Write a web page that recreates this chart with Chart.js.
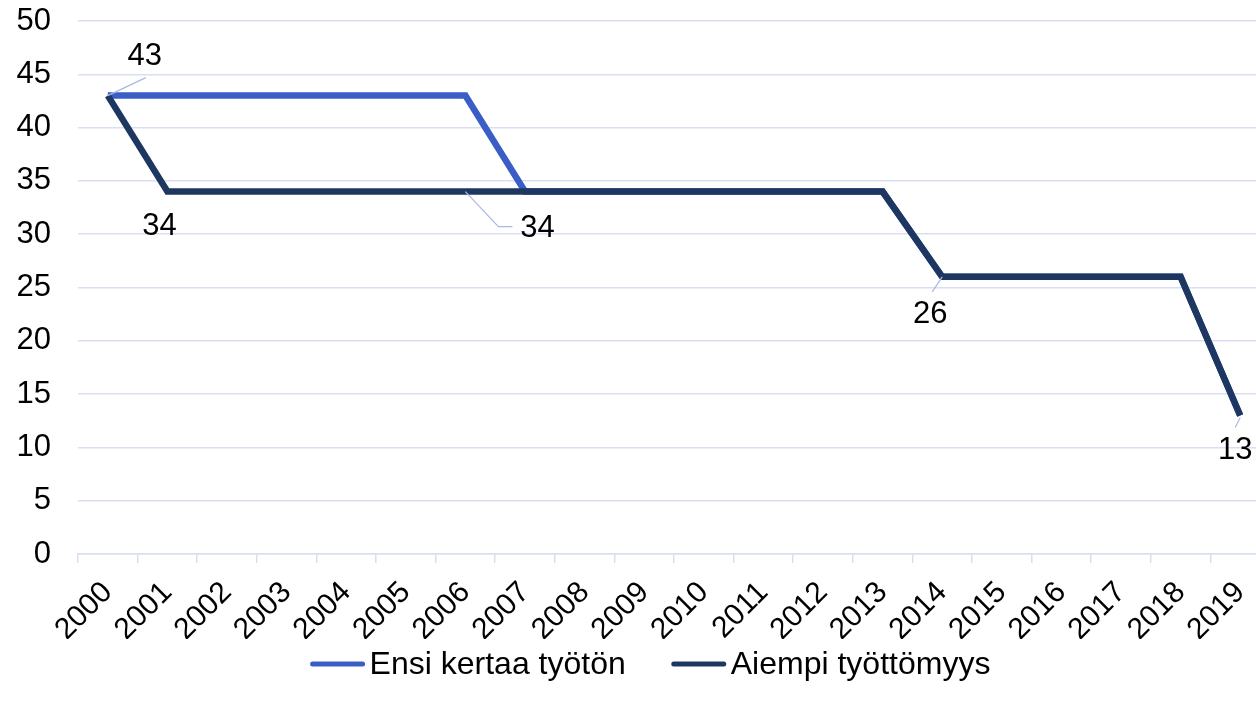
<!DOCTYPE html>
<html><head><meta charset="utf-8">
<script src="https://cdn.jsdelivr.net/npm/chart.js@4.4.1/dist/chart.umd.min.js"></script>
<style>
html,body{margin:0;padding:0;background:#fff;overflow:hidden;}
#wrap{position:relative;width:1256px;height:709px;overflow:hidden;background:#fff;}
#c{position:absolute;left:0;top:0;}
</style></head><body>
<div id="wrap"><canvas id="c" width="1290" height="709"></canvas></div>
<script>
// ---- data ----
const years = ['2000','2001','2002','2003','2004','2005','2006','2007','2008','2009','2010','2011','2012','2013','2014','2015','2016','2017','2018','2019'];
const ensiKertaa = [43,43,43,43,43,43,43,34,34,34,34,34,34,34,26,26,26,26,26,13];
const aiempi     = [43,34,34,34,34,34,34,34,34,34,34,34,34,34,26,26,26,26,26,13];
const seriesNames = ['Ensi kertaa työtön','Aiempi työttömyys'];
const yTickValues = [0,5,10,15,20,25,30,35,40,45,50];

// ---- styles ----
const FONT = '"Liberation Sans", Arial, sans-serif';
const COL_ENSI = '#3a5ec6';
const COL_AIEMPI = '#1e3761';
const GRID = '#d9dff2';
const LEADER = '#aab9e2';

// data label placement (dataset index, point index, text offset, leader polyline) - styling only
const labelSpecs = [
  {ds:1, i:0,  dx:37,  dy:-39, leader:[[0,0],[38,-18]]},
  {ds:1, i:1,  dx:-8,  dy:35,  leader:null},
  {ds:1, i:6,  dx:72,  dy:37,  leader:[[0,0],[33,35],[47,35]]},
  {ds:1, i:14, dx:-12, dy:38,  leader:[[0,0],[-10,15]]},
  {ds:1, i:19, dx:-5,  dy:35,  leader:[[0,2],[-5,12]]}
];

const dataLabelPlugin = {
  id:'dataLabels',
  afterDatasetsDraw(chart){
    const ctx = chart.ctx;
    ctx.save();
    labelSpecs.forEach(s=>{
      const meta = chart.getDatasetMeta(s.ds);
      const pt = meta.data[s.i];
      const v = chart.data.datasets[s.ds].data[s.i];
      if (s.leader){
        ctx.beginPath();
        ctx.strokeStyle = LEADER; ctx.lineWidth = 1.2;
        s.leader.forEach((p,k)=>{ const x=pt.x+p[0], y=pt.y+p[1]; k?ctx.lineTo(x,y):ctx.moveTo(x,y); });
        ctx.stroke();
      }
      ctx.fillStyle = '#000';
      ctx.font = '31px ' + FONT;
      ctx.textAlign = 'center'; ctx.textBaseline = 'middle';
      ctx.fillText(String(v), pt.x + s.dx, pt.y + s.dy);
    });
    ctx.restore();
  }
};

const LEGEND_Y = 664, LEGEND_CX = 650;
const legendPlugin = {
  id:'customLegend',
  afterDraw(chart){
    const ctx = chart.ctx;
    ctx.save();
    ctx.font = '32px ' + FONT;
    const lineW = 56, gapText = 4, gapItems = 45;
    const items = [0,1].map(k=>({name: seriesNames[k], color: chart.data.datasets.find(d=>d.label===seriesNames[k]).borderColor}));
    const widths = items.map(it=> lineW + gapText + ctx.measureText(it.name).width);
    const total = widths[0] + widths[1] + gapItems;
    let x = LEGEND_CX - total/2;
    items.forEach((it,k)=>{
      ctx.beginPath();
      ctx.strokeStyle = it.color; ctx.lineWidth = 5; ctx.lineCap = 'round';
      ctx.moveTo(x+3, LEGEND_Y); ctx.lineTo(x+lineW-3, LEGEND_Y); ctx.stroke();
      ctx.fillStyle = '#000'; ctx.textAlign='left'; ctx.textBaseline='middle';
      ctx.fillText(it.name, x + lineW + gapText, LEGEND_Y + 1);
      x += widths[k] + gapItems;
    });
    ctx.restore();
  }
};

new Chart(document.getElementById('c'), {
  type:'line',
  data:{
    labels: years,
    datasets:[
      {label: seriesNames[0], data: ensiKertaa, borderColor: COL_ENSI, backgroundColor: COL_ENSI, borderWidth:6.5, pointRadius:0, tension:0, order:1},
      {label: seriesNames[1], data: aiempi, borderColor: COL_AIEMPI, backgroundColor: COL_AIEMPI, borderWidth:6.5, pointRadius:0, tension:0, order:0}
    ]
  },
  options:{
    responsive:false, animation:false, devicePixelRatio:1,
    layout:{padding:{top:21, right:20, bottom:70, left:0}},
    plugins:{legend:{display:false}, tooltip:{enabled:false}},
    scales:{
      x:{
        type:'category', offset:true,
        grid:{offset:true, drawOnChartArea:false, drawTicks:true, tickLength:9, color:GRID, lineWidth:1.5},
        border:{display:true, color:GRID, width:1.5},
        ticks:{autoSkip:false, minRotation:45, maxRotation:45, color:'#000', font:{family:FONT, size:30}, padding:12},
        afterFit(s){ s.height = 85; s.paddingLeft = 0; s.paddingRight = 0; }
      },
      y:{
        min:0, max:50,
        afterBuildTicks(s){ s.ticks = yTickValues.map(v=>({value:v})); },
        grid:{color:GRID, lineWidth:1.5, drawTicks:false},
        border:{display:false},
        ticks:{color:'#000', font:{family:FONT, size:31}, padding:27},
        afterFit(s){ s.width = 78; s.paddingTop = 0; s.paddingBottom = 0; }
      }
    }
  },
  plugins:[dataLabelPlugin, legendPlugin]
});
</script>
</body></html>
